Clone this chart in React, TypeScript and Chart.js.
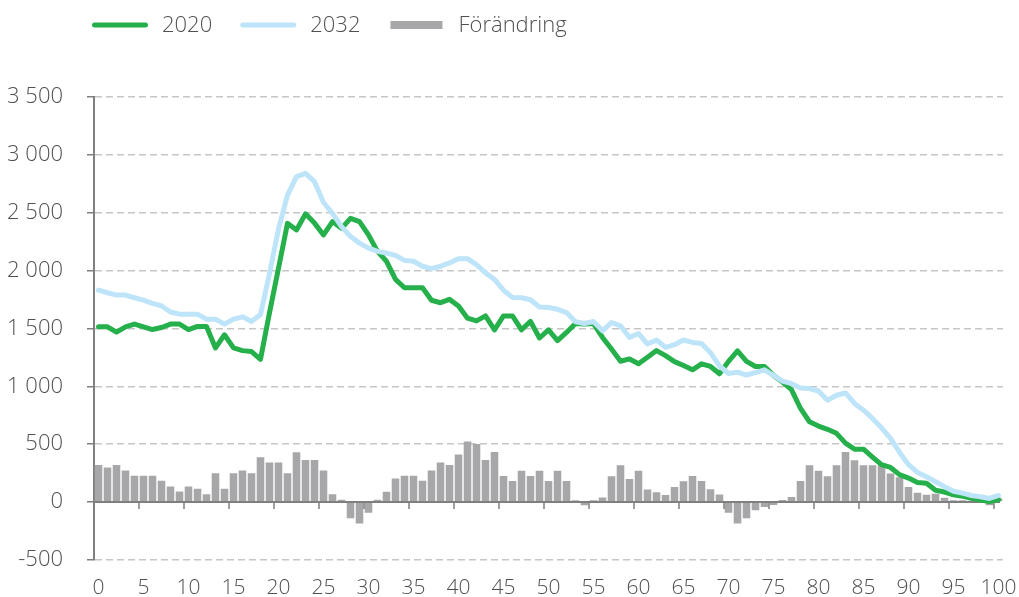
import React, { useEffect, useRef } from 'react';
import { Chart, registerables } from 'chart.js';

Chart.register(...registerables);

const ages: string[] = [
  '0','1','2','3','4','5','6','7','8','9','10','11','12','13','14','15','16','17','18','19','20',
  '21','22','23','24','25','26','27','28','29','30','31','32','33','34','35','36','37','38','39','40',
  '41','42','43','44','45','46','47','48','49','50','51','52','53','54','55','56','57','58','59','60',
  '61','62','63','64','65','66','67','68','69','70','71','72','73','74','75','76','77','78','79','80',
  '81','82','83','84','85','86','87','88','89','90','91','92','93','94','95','96','97','98','99','100',
];

const series2020: number[] = [
  1514, 1514, 1468, 1514, 1537, 1514, 1490, 1508, 1537, 1537,
  1490, 1517, 1517, 1331, 1445, 1331, 1308, 1300, 1233, 1635,
  2020, 2408, 2351, 2490, 2410, 2308, 2423, 2365, 2451, 2423,
  2308, 2166, 2080, 1923, 1851, 1851, 1851, 1743, 1722, 1751,
  1694, 1588, 1565, 1608, 1488, 1608, 1608, 1488, 1560, 1417,
  1488, 1394, 1465, 1542, 1537, 1542, 1422, 1322, 1216, 1236,
  1194, 1250, 1308, 1265, 1213, 1179, 1142, 1194, 1171, 1108,
  1215, 1305, 1215, 1171, 1171, 1094, 1036, 971, 808, 693,
  656, 628, 593, 508, 456, 456, 388, 322, 298, 236,
  206, 169, 162, 101, 86, 61, 50, 32, 17, 3,
  20,
];

const series2032: number[] = [
  1831, 1808, 1788, 1788, 1765, 1745, 1717, 1694, 1642, 1623,
  1623, 1623, 1580, 1580, 1537, 1580, 1600, 1560, 1620, 1975,
  2360, 2652, 2812, 2840, 2768, 2588, 2494, 2380, 2294, 2237,
  2194, 2166, 2151, 2131, 2088, 2080, 2037, 2017, 2037, 2066,
  2103, 2103, 2051, 1980, 1923, 1830, 1768, 1765, 1748, 1685,
  1680, 1665, 1637, 1557, 1542, 1560, 1479, 1551, 1522, 1422,
  1456, 1365, 1400, 1336, 1359, 1400, 1379, 1370, 1290, 1175,
  1110, 1122, 1097, 1118, 1142, 1094, 1045, 1022, 985, 980,
  959, 879, 922, 942, 851, 793, 722, 640, 550, 430,
  322, 255, 218, 175, 132, 93, 76, 56, 45, 30,
  56,
];

const seriesChange: number[] = [
  320, 297, 320, 271, 226, 226, 226, 183, 134, 91,
  134, 114, 66, 249, 114, 249, 271, 249, 386, 340,
  340, 249, 429, 363, 363, 271, 66, 20, -140, -186,
  -94, 20, 89, 203, 226, 226, 183, 271, 340, 320,
  411, 523, 500, 363, 431, 224, 181, 270, 224, 270,
  181, 270, 181, 14, -29, 14, 38, 222, 318, 199,
  269, 107, 84, 61, 130, 179, 224, 181, 110, 65,
  -94, -186, -140, -71, -43, -26, 17, 42, 181, 318,
  269, 222, 318, 431, 361, 318, 318, 318, 246, 214,
  129, 80, 63, 70, 37, 14, 14, 10, 5, -29,
  30,
];

const yTicks: number[] = [-500, 0, 500, 1000, 1500, 2000, 2500, 3000, 3500];

const GREEN = '#25b04b';
const BLUE = '#bde4f8';
const GRAY = '#a7a7aa';
const TEXT = '#505050';
const AXIS = '#7f7f7f';
const FONT = '"Open Sans", "DejaVu Sans", sans-serif';

const fmt = (v: number) => {
  const s = String(Math.abs(v)).replace(/\B(?=(\d{3})+(?!\d))/g, ' ');
  return (v < 0 ? '-' : '') + s;
};

const zeroLinePlugin = {
  id: 'zeroLine',
  afterDatasetDraw(chart: any, args: any) {
    if (args.index !== 2) return;
    const { ctx, chartArea, scales } = chart;
    const y0 = scales.y.getPixelForValue(0);
    ctx.save();
    ctx.strokeStyle = AXIS;
    ctx.lineWidth = 2;
    ctx.beginPath();
    ctx.moveTo(chartArea.left, y0);
    ctx.lineTo(chartArea.right - 3, y0);
    ctx.stroke();
    ctx.lineWidth = 1.5;
    for (let i = 4; i < ages.length - 1; i += 5) {
      const x = (scales.x.getPixelForValue(i) + scales.x.getPixelForValue(i + 1)) / 2;
      ctx.beginPath();
      ctx.moveTo(x, y0);
      ctx.lineTo(x, y0 + 7);
      ctx.stroke();
    }
    ctx.restore();
  },
};

const legendPlugin = {
  id: 'customLegend',
  afterDraw(chart: any) {
    const { ctx } = chart;
    ctx.save();
    ctx.font = `300 22px ${FONT}`;
    ctx.textBaseline = 'middle';
    ctx.textAlign = 'left';
    const y = 25;
    let x = 92;
    const items = [
      { label: chart.data.datasets[0].label, color: GREEN, kind: 'line' },
      { label: chart.data.datasets[1].label, color: BLUE, kind: 'line' },
      { label: chart.data.datasets[2].label, color: GRAY, kind: 'bar' },
    ];
    items.forEach((it) => {
      if (it.kind === 'line') {
        ctx.strokeStyle = it.color;
        ctx.lineWidth = 5;
        ctx.lineCap = 'round';
        ctx.beginPath();
        ctx.moveTo(x + 2.5, y);
        ctx.lineTo(x + 53.5, y);
        ctx.stroke();
      } else {
        ctx.fillStyle = it.color;
        ctx.fillRect(x + 2, y - 4, 52, 8);
      }
      const tx = x + 70;
      ctx.fillStyle = TEXT;
      ctx.fillText(it.label, tx, y + 1);
      x = tx + ctx.measureText(it.label).width + 28;
    });
    ctx.restore();
  },
};

export default function App() {
  const ref = useRef<HTMLCanvasElement | null>(null);

  useEffect(() => {
    if (!ref.current) return;
    const chart = new Chart(ref.current, {
      type: 'bar',
      data: {
        labels: ages,
        datasets: [
          {
            type: 'line',
            label: '2020',
            data: series2020,
            borderColor: GREEN,
            backgroundColor: GREEN,
            borderWidth: 5,
            pointRadius: 0,
            tension: 0,
            borderJoinStyle: 'round',
            borderCapStyle: 'round',
            order: 2,
          } as any,
          {
            type: 'line',
            label: '2032',
            data: series2032,
            borderColor: BLUE,
            backgroundColor: BLUE,
            borderWidth: 5,
            pointRadius: 0,
            tension: 0,
            borderJoinStyle: 'round',
            borderCapStyle: 'round',
            order: 1,
          } as any,
          {
            type: 'bar',
            label: 'Förändring',
            data: seriesChange,
            backgroundColor: GRAY,
            borderWidth: 0,
            barPercentage: 0.84,
            categoryPercentage: 1,
            order: 3,
          } as any,
        ],
      },
      options: {
        responsive: false,
        animation: false,
        layout: { padding: { top: 97, right: 16, bottom: 0, left: 0 } },
        plugins: {
          legend: { display: false },
          tooltip: { enabled: false },
        },
        scales: {
          x: {
            offset: true,
            grid: { display: false, drawTicks: false },
            border: { display: false },
            ticks: {
              autoSkip: false,
              maxRotation: 0,
              minRotation: 0,
              padding: 16,
              color: TEXT,
              font: { family: FONT, size: 21, weight: '300' },
              callback: (_v: any, i: number) => (i % 5 === 0 ? ages[i] : ''),
            },
            afterFit: (s: any) => {
              s.height = 36;
              s.paddingLeft = 0;
              s.paddingRight = 0;
            },
          },
          y: {
            min: yTicks[0],
            max: yTicks[yTicks.length - 1],
            afterBuildTicks: (s: any) => {
              s.ticks = yTicks.map((v) => ({ value: v }));
            },
            ticks: {
              padding: 24,
              color: TEXT,
              font: { family: FONT, size: 22, weight: '300' },
              callback: (v: any) => fmt(Number(v)),
            },
            grid: {
              color: (c: any) => (c.tick && c.tick.value === 0 ? 'rgba(0,0,0,0)' : '#c6c6c6'),
              lineWidth: 1.5,
              drawTicks: true,
              tickLength: 7,
              tickColor: AXIS,
              tickWidth: 1.5,
            },
            border: { display: true, color: AXIS, width: 2, dash: [7, 4] },
            afterFit: (s: any) => {
              s.width = 94;
            },
          },
        },
      },
      plugins: [zeroLinePlugin, legendPlugin],
    });
    return () => chart.destroy();
  }, []);

  return (
    <div style={{ position: 'absolute', left: 0, top: 0, width: 1019, height: 597, background: '#fff' }}>
      <canvas ref={ref} width={1019} height={597} style={{ display: 'block' }} />
    </div>
  );
}
